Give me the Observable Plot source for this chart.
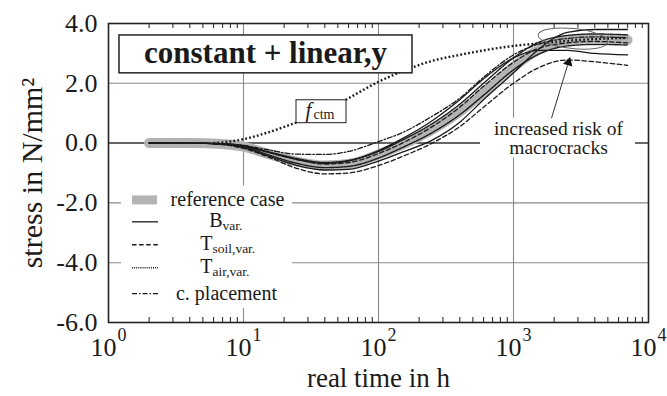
<!DOCTYPE html>
<html>
<head>
<meta charset="utf-8">
<script src="https://cdn.jsdelivr.net/npm/d3@7"></script>
<script src="https://cdn.jsdelivr.net/npm/@observablehq/plot@0.6"></script>
<style>
  html, body { margin: 0; padding: 0; background: #fff; }
  #chart { width: 667px; height: 396px; }
</style>
</head>
<body>
<div id="chart"></div>
<script>
// ---------- data ----------
const times = [2, 4, 7, 10, 15, 25, 40, 60, 100, 150, 250, 400, 600, 1000, 1500, 2500, 4000, 7000];
const referenceCase = [0, 0, -0.03, -0.12, -0.35, -0.62, -0.75, -0.7, -0.38, -0.05, 0.45, 1.05, 1.7, 2.55, 3.1, 3.45, 3.5, 3.45];
const bVarEarly = [0, 0, -0.02, -0.1, -0.3, -0.55, -0.68, -0.6, -0.25, 0.15, 0.75, 1.45, 2.15, 2.85, 3.1, 3.1, 3.0, 2.95];
const bVarLate = [0, 0, -0.04, -0.15, -0.42, -0.75, -0.9, -0.88, -0.6, -0.3, 0.1, 0.7, 1.45, 2.35, 3.1, 3.7, 3.8, 3.8];
const tSoilUpper = [0, 0, -0.03, -0.1, -0.3, -0.55, -0.7, -0.65, -0.35, 0.0, 0.55, 1.2, 1.9, 2.7, 3.15, 3.35, 3.4, 3.35];
const tSoilLower = [0, 0, -0.05, -0.18, -0.45, -0.85, -1.03, -1.0, -0.75, -0.45, 0.0, 0.55, 1.2, 2.0, 2.5, 2.78, 2.72, 2.6];
const tAirUpper = [0, 0, -0.02, -0.08, -0.28, -0.52, -0.65, -0.58, -0.28, 0.1, 0.65, 1.3, 2.0, 2.85, 3.35, 3.6, 3.65, 3.62];
const tAirLower = [0, 0, -0.03, -0.12, -0.38, -0.68, -0.82, -0.78, -0.5, -0.15, 0.35, 0.95, 1.6, 2.45, 2.95, 3.25, 3.3, 3.28];
const placement = [0, 0, -0.02, -0.08, -0.22, -0.37, -0.38, -0.28, 0.05, 0.35, 0.9, 1.5, 2.2, 2.95, 3.3, 3.5, 3.55, 3.52];

const fctmTimes = [6, 10, 15, 25, 40, 60, 100, 150, 250, 400, 600, 1000, 1500, 2500, 4000, 7000];
const fctmValues = [0, 0.13, 0.35, 0.7, 1.05, 1.5, 2.05, 2.4, 2.75, 2.95, 3.1, 3.25, 3.33, 3.42, 3.48, 3.52];

const xTicks = [1, 10, 100, 1000, 10000];
const xTickExponents = ["0", "1", "2", "3", "4"];
const yTicks = [4, 2, 0, -2, -4, -6];
const yTickLabels = ["4.0", "2.0", "0.0", "-2.0", "-4.0", "-6.0"];
const minorTicks = [2,3,4,5,6,7,8,9,20,30,40,50,60,70,80,90,200,300,400,500,600,700,800,900,2000,3000,4000,5000,6000,7000,8000,9000];

const titleText = "constant + linear,y";
const xLabel = "real time in h";
const yLabel = "stress in N/mm²";
const annotation = ["increased risk of", "macrocracks"];
const legendMain = ["reference case", "B", "T", "T", "c. placement"];
const legendSub = ["", "var.", "soil,var.", "air,var.", ""];

// ---------- layout helpers (pixel -> data space) ----------
const W = 667, H = 396, ML = 108, MR = 19, MT = 23, MB = 74;
const X = px => 10 ** ((px - ML) / 135);
const Y = py => (142 - py) / 30;
const FONT = "'Liberation Serif', 'DejaVu Serif', serif";
const INK = "#1a1a1a";

const series = (vals) => times.map((t, i) => ({t, v: vals[i]}));
const line = (vals, opts) => Plot.line(series(vals), {x: "t", y: "v", curve: "monotone-x", stroke: INK, strokeWidth: 1.3, ...opts});

const lab = (txt, px, py, opts = {}) =>
  Plot.text([txt], {frameAnchor: "top-left", dx: px - ML, dy: py - MT, text: d => d,
    fontFamily: FONT, fill: INK, lineAnchor: "middle", textAnchor: "middle", ...opts});

const styles = {
  solid: {},
  dashed: {strokeDasharray: "4.5 2.6"},
  dotted: {strokeDasharray: "1 1.1", strokeWidth: 1.4},
  dashdot: {strokeDasharray: "5 2 1.5 2"}
};

const legendRows = [199, 221, 244, 267, 293];
const legendStyles = [null, styles.solid, styles.dashed, styles.dotted, styles.dashdot];

const marks = [
  // grid
  Plot.ruleX([10, 100, 1000], {stroke: "#8a8a8a", strokeWidth: 1.1}),
  Plot.ruleY([2, -2, -4], {stroke: "#8a8a8a", strokeWidth: 1.1}),
  Plot.ruleY([0], {stroke: "#333", strokeWidth: 1.5}),
  // white backgrounds for legend and annotation
  Plot.rect([0], {x1: X(121), x2: X(292), y1: Y(308), y2: Y(185), fill: "white"}),
  Plot.rect([0], {x1: X(480), x2: X(635), y1: Y(157), y2: Y(117), fill: "white"}),
  // minor ticks top / bottom
  Plot.ruleX(minorTicks, {y1: -6, y2: -6 + 5 / 30, stroke: "#333", strokeWidth: 1.1}),
  Plot.ruleX(minorTicks, {y1: 4, y2: 4 - 5 / 30, stroke: "#333", strokeWidth: 1.1}),
  // reference band
  line(referenceCase, {stroke: "#b3b3b3", strokeWidth: 10}),
  // variations
  line(bVarEarly, styles.solid),
  line(bVarLate, styles.solid),
  line(tSoilUpper, styles.dashed),
  line(tSoilLower, styles.dashed),
  line(tAirUpper, styles.dotted),
  line(tAirLower, styles.dotted),
  line(placement, styles.dashdot),
  // fctm
  Plot.line(fctmTimes.map((t, i) => ({t, v: fctmValues[i]})), {x: "t", y: "v", curve: "monotone-x",
    stroke: INK, strokeWidth: 2.4, strokeDasharray: "1.8 2.2", strokeLinecap: "butt"}),
  // frame
  Plot.frame({stroke: "#222", strokeWidth: 1.6}),
  // title box
  Plot.rect([0], {x1: X(119), x2: X(412), y1: Y(72), y2: Y(34), fill: "white", stroke: "#222", strokeWidth: 1.5}),
  lab(titleText, 265, 53, {fontSize: 31, fontWeight: "bold", letterSpacing: "1.4px"}),
  // fctm label
  Plot.rect([0], {x1: X(296), x2: X(346), y1: Y(122), y2: Y(99), fill: "white", stroke: "#333", strokeWidth: 1.1}),
  lab("f", 308, 110, {fontSize: 21, fontStyle: "italic", textAnchor: "middle"}),
  lab("ctm", 313, 114, {fontSize: 14, textAnchor: "start"}),
  // annotation
  lab(annotation[0], 558, 128, {fontSize: 19.5}),
  lab(annotation[1], 558, 147, {fontSize: 19.5}),
  Plot.link([0], {x1: X(551), y1: Y(117), x2: X(567), y2: Y(64), stroke: "#333", strokeWidth: 1}),
  Plot.dot([0], {x: X(568), y: Y(61), symbol: "triangle", r: 3.6, fill: "#111", rotate: 17}),
  // legend swatches
  Plot.rect([0], {x1: X(132), x2: X(157), y1: Y(204), y2: Y(195), fill: "#b3b3b3"}),
  ...legendRows.slice(1).map((py, i) =>
    Plot.ruleY([Y(py)], {x1: X(132), x2: X(158), stroke: INK, strokeWidth: 1.3, ...legendStyles[i + 1]})),
  // legend text
  lab(legendMain[0], 227, legendRows[0], {fontSize: 20}),
  lab(legendMain[1], 222, legendRows[1] - 1, {fontSize: 20, textAnchor: "end"}),
  lab(legendSub[1], 222, legendRows[1] + 4, {fontSize: 13.5, textAnchor: "start"}),
  lab(legendMain[2], 212, legendRows[2] - 1, {fontSize: 20, textAnchor: "end"}),
  lab(legendSub[2], 212, legendRows[2] + 4, {fontSize: 13.5, textAnchor: "start"}),
  lab(legendMain[3], 212, legendRows[3] - 1, {fontSize: 20, textAnchor: "end"}),
  lab(legendSub[3], 212, legendRows[3] + 4, {fontSize: 13.5, textAnchor: "start"}),
  lab(legendMain[4], 226, legendRows[4], {fontSize: 20}),
  // y tick labels
  Plot.text(yTicks, {x: 1, y: d => d, text: (d, i) => yTickLabels[i], textAnchor: "end", dx: -11,
    fontSize: 26, fontFamily: FONT, fill: INK}),
  // x tick labels
  Plot.text(xTicks, {x: d => d, y: -6, text: () => "10", textAnchor: "end", dx: 8, dy: 25,
    fontSize: 26, fontFamily: FONT, fill: INK}),
  Plot.text(xTicks, {x: d => d, y: -6, text: (d, i) => xTickExponents[i], textAnchor: "start", dx: 9, dy: 13,
    fontSize: 18, fontFamily: FONT, fill: INK}),
  // axis titles
  lab(xLabel, 378, 378, {fontSize: 27}),
  Plot.text([yLabel], {frameAnchor: "left", dx: -76, text: d => d, rotate: -90, fontSize: 30,
    textAnchor: "middle", lineAnchor: "middle", fontFamily: FONT, fill: INK})
];

const plot = Plot.plot({
  width: W, height: H,
  marginLeft: ML, marginRight: MR, marginTop: MT, marginBottom: MB,
  x: {type: "log", domain: [1, 10000], axis: null},
  y: {domain: [-6, 4], axis: null},
  style: {fontFamily: FONT, background: "white", overflow: "visible"},
  marks
});

// ellipse annotation placed through the plot's own scales
const sx = plot.scale("x"), sy = plot.scale("y");
const cx = sx.apply(2780), cy = sy.apply(3.48);
d3.select(plot).append("ellipse")
  .attr("cx", cx).attr("cy", cy).attr("rx", 35).attr("ry", 10)
  .attr("transform", `rotate(6 ${cx} ${cy})`)
  .attr("fill", "none").attr("stroke", "#666").attr("stroke-width", 1);

document.getElementById("chart").appendChild(plot);
</script>
</body>
</html>
